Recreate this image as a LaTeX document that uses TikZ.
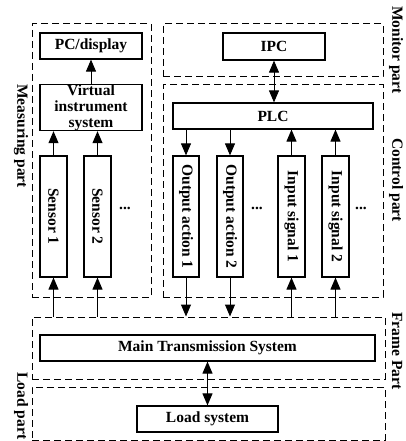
\documentclass[tikz,border=0pt]{standalone}
\usepackage{fontspec}
\setmainfont{Liberation Serif}
\usetikzlibrary{arrows.meta}
\begin{document}
\begin{tikzpicture}[x=1pt,y=-1pt,
  every node/.style={font=\bfseries\fontsize{15.5}{16}\selectfont, inner sep=0pt},
  box/.style={draw, line width=1.2pt, align=center},
  vbox/.style={box, minimum width=27pt, minimum height=121pt},
  vtext/.style={rotate=-90},
  group/.style={draw, line width=1pt, dash pattern=on 7pt off 4pt},
  side/.style={rotate=-90},
  arr/.style={line width=1pt, -{Triangle[length=12pt,width=10pt]}},
  darr/.style={line width=1pt, {Triangle[length=12pt,width=10pt]}-{Triangle[length=12pt,width=10pt]}},
  dots/.style={anchor=base}
]
\useasboundingbox (0,0) rectangle (406,441);

% dashed group frames
\node[group, minimum width=119pt, minimum height=273pt] (meas) at (91.5,160.5) {};
\node[group, minimum width=220pt, minimum height=53pt] (mon) at (273,50.5) {};
\node[group, minimum width=220pt, minimum height=212pt] (ctrl) at (273,191) {};
\node[group, minimum width=353pt, minimum height=62pt] (frame) at (208.5,348) {};
\node[group, minimum width=353pt, minimum height=53pt] (load) at (208.5,413.5) {};

% group labels
\node[side] (lmeas) at (21,136) {Measuring part};
\node[side] (lload) at (21,406) {Load part};
\node[side] (lmon) at (396,50) {Monitor part};
\node[side] (lctrl) at (396,180) {Control part};
\node[side] (lframe) at (397,351) {Frame Part};

% measuring part
\node[box, minimum width=102pt, minimum height=26pt] (pc) at (91,46) {PC/display};
\node[box, minimum width=102pt, minimum height=43pt] (vi) at (91,107.5) {Virtual\\instrument\\system};
\node[vbox] (s1) at (53.5,216.5) {};
\node[vtext] (s1t) at (s1) {Sensor 1};
\node[vbox] (s2) at (97.5,216.5) {};
\node[vtext] (s2t) at (s2) {Sensor 2};
\node[dots] (d1) at (125,209) {...};

% monitor and control part
\node[box, minimum width=102pt, minimum height=27pt] (ipc) at (274,46.5) {IPC};
\node[box, minimum width=200pt, minimum height=26pt] (plc) at (273,116) {PLC};
\node[vbox, minimum width=26pt] (o1) at (186,216.5) {};
\node[vtext] (o1t) at (o1) {Output action 1};
\node[vbox, minimum width=26pt] (o2) at (230,216.5) {};
\node[vtext] (o2t) at (o2) {Output action 2};
\node[dots] (d2) at (257,209) {...};
\node[vbox] (i1) at (291.5,216.5) {};
\node[vtext] (i1t) at (i1) {Input signal 1};
\node[vbox] (i2) at (335.5,216.5) {};
\node[vtext] (i2t) at (i2) {Input signal 2};
\node[dots] (d3) at (361,209) {...};

% frame and load part
\node[box, minimum width=335pt, minimum height=26pt] (main) at (207.5,348) {Main Transmission System};
\node[box, minimum width=141pt, minimum height=26pt] (ls) at (207.5,419) {Load system};

% connectors
\draw[arr] (vi.north) -- (pc.south);
\draw[arr] (s1.north) -- (s1.north |- vi.south);
\draw[arr] (s2.north) -- (s2.north |- vi.south);
\draw[arr] (s1.south |- frame.north) -- (s1.south);
\draw[arr] (s2.south |- frame.north) -- (s2.south);

\draw[darr] (ipc.south) -- (ipc.south |- plc.north);
\draw[arr] (o1.north |- plc.south) -- (o1.north);
\draw[arr] (o2.north |- plc.south) -- (o2.north);
\draw[arr] (i1.north) -- (i1.north |- plc.south);
\draw[arr] (i2.north) -- (i2.north |- plc.south);

\draw[arr] (o1.south) -- (o1.south |- frame.north);
\draw[arr] (o2.south) -- (o2.south |- frame.north);
\draw[arr] (i1.south |- frame.north) -- (i1.south);
\draw[arr] (i2.south |- frame.north) -- (i2.south);

\draw[darr] (main.south) -- (main.south |- ls.north);
\end{tikzpicture}
\end{document}
